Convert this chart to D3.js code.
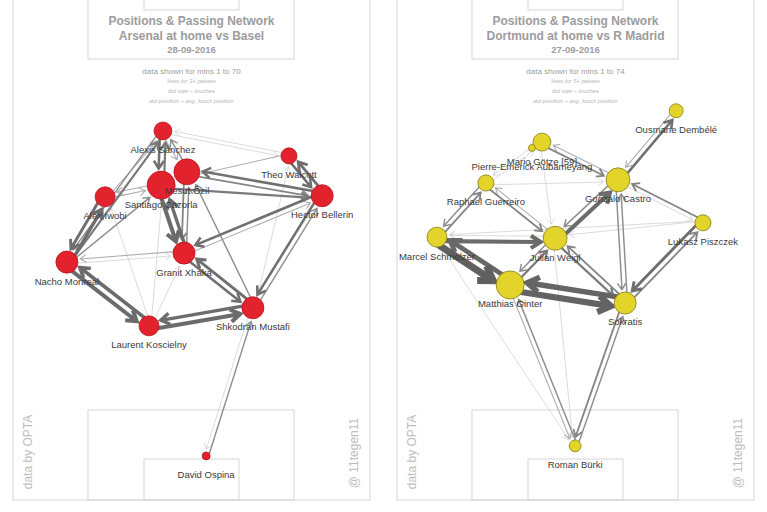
<!DOCTYPE html>
<html>
<head>
<meta charset="utf-8">
<script src="https://cdn.jsdelivr.net/npm/d3@7"></script>
<style>
  body { margin: 0; background: #fff; }
  svg { display: block; font-family: Arial, "Liberation Sans", sans-serif; }
</style>
</head>
<body>
<div id="chart"></div>
<script>

//--- Daten -----------------------------------------------------------------------------//

// pitch coordinates: x 0-100 across, y 0-100 from own goal line upwards
var arsenalKeys = ['Sanchez', 'Ozil', 'Cazorla', 'Walcott', 'Bellerin', 'Iwobi', 'Monreal', 'Xhaka', 'Mustafi', 'Koscielny', 'Ospina'];
var arsenalNames = ['Alexis Sánchez', 'Mesut Özil', 'Santiago Cazorla', 'Theo Walcott', 'Hector Bellerin', 'Alex Iwobi', 'Nacho Monreal', 'Granit Xhaka', 'Shkodran Mustafi', 'Laurent Koscielny', 'David Ospina'];
var arsenalX = [42.0, 48.7, 41.5, 77.3, 86.6, 25.8, 15.1, 47.9, 67.2, 38.1, 54.1];
var arsenalY = [69.5, 61.8, 59.3, 64.8, 57.3, 57.1, 44.8, 46.5, 36.2, 32.8, 8.3];
var arsenalTouches = [41, 86, 100, 33, 62, 51, 62, 62, 62, 51, 8];
var arsenalPasses = [
    ['Monreal', 'Koscielny', 12], ['Koscielny', 'Monreal', 11], ['Koscielny', 'Mustafi', 12], ['Mustafi', 'Koscielny', 10],
    ['Mustafi', 'Xhaka', 9], ['Xhaka', 'Mustafi', 8], ['Bellerin', 'Mustafi', 8], ['Mustafi', 'Bellerin', 5],
    ['Bellerin', 'Xhaka', 8], ['Walcott', 'Bellerin', 8], ['Bellerin', 'Walcott', 9], ['Cazorla', 'Bellerin', 7],
    ['Ozil', 'Bellerin', 6], ['Bellerin', 'Ozil', 8], ['Walcott', 'Cazorla', 4], ['Sanchez', 'Walcott', 3],
    ['Walcott', 'Sanchez', 3], ['Sanchez', 'Cazorla', 8], ['Cazorla', 'Sanchez', 7], ['Cazorla', 'Xhaka', 12],
    ['Xhaka', 'Cazorla', 10], ['Ozil', 'Xhaka', 6], ['Xhaka', 'Ozil', 5], ['Iwobi', 'Monreal', 9],
    ['Monreal', 'Iwobi', 10], ['Monreal', 'Sanchez', 7], ['Sanchez', 'Monreal', 5], ['Iwobi', 'Cazorla', 4],
    ['Cazorla', 'Iwobi', 4], ['Monreal', 'Cazorla', 5], ['Koscielny', 'Cazorla', 3], ['Koscielny', 'Xhaka', 3],
    ['Mustafi', 'Ospina', 3], ['Ospina', 'Mustafi', 5], ['Monreal', 'Xhaka', 3], ['Xhaka', 'Monreal', 4],
    ['Mustafi', 'Ozil', 5], ['Iwobi', 'Sanchez', 4], ['Koscielny', 'Iwobi', 3], ['Mustafi', 'Walcott', 3],
    ['Xhaka', 'Bellerin', 4], ['Ozil', 'Sanchez', 5], ['Sanchez', 'Ozil', 4]
];

var dortmundKeys = ['Dembele', 'Gotze', 'Aubameyang', 'Guerreiro', 'Castro', 'Piszczek', 'Schmelzer', 'Weigl', 'Ginter', 'Sokratis', 'Burki'];
var dortmundNames = ['Ousmane Dembélé', 'Mario Götze [59]', 'Pierre-Emerick Aubameyang', 'Raphael Guerreiro', 'Gonzalo Castro', 'Lukasz Piszczek', 'Marcel Schmelzer', 'Julian Weigl', 'Matthias Ginter', 'Sokratis', 'Roman Bürki'];
var dortmundX = [78.2, 40.6, 37.8, 24.9, 61.9, 85.7, 11.2, 44.3, 31.7, 63.9, 49.9];
var dortmundY = [73.3, 67.4, 66.3, 59.7, 60.3, 52.2, 49.5, 49.3, 40.5, 37.1, 10.2];
var dortmundTouches = [25, 41, 6, 33, 73, 33, 51, 73, 100, 62, 18];
var dortmundPasses = [
    ['Schmelzer', 'Ginter', 20], ['Ginter', 'Schmelzer', 14], ['Schmelzer', 'Weigl', 12], ['Weigl', 'Schmelzer', 3],
    ['Ginter', 'Sokratis', 18], ['Sokratis', 'Ginter', 16], ['Ginter', 'Weigl', 7], ['Weigl', 'Ginter', 5],
    ['Weigl', 'Sokratis', 7], ['Sokratis', 'Weigl', 6], ['Weigl', 'Castro', 12], ['Castro', 'Weigl', 5],
    ['Castro', 'Dembele', 8], ['Dembele', 'Castro', 4], ['Sokratis', 'Piszczek', 6], ['Piszczek', 'Sokratis', 9],
    ['Piszczek', 'Castro', 6], ['Castro', 'Piszczek', 3], ['Piszczek', 'Weigl', 3], ['Piszczek', 'Schmelzer', 3],
    ['Gotze', 'Castro', 6], ['Castro', 'Gotze', 4], ['Gotze', 'Weigl', 3], ['Guerreiro', 'Castro', 3],
    ['Guerreiro', 'Schmelzer', 5], ['Schmelzer', 'Guerreiro', 6], ['Guerreiro', 'Weigl', 6], ['Weigl', 'Guerreiro', 4],
    ['Sokratis', 'Castro', 5], ['Castro', 'Sokratis', 5], ['Burki', 'Ginter', 5], ['Ginter', 'Burki', 4],
    ['Burki', 'Sokratis', 5], ['Sokratis', 'Burki', 6], ['Weigl', 'Burki', 3], ['Schmelzer', 'Burki', 3],
    ['Guerreiro', 'Gotze', 3], ['Gotze', 'Guerreiro', 3]
];

var titles = [
    ['Positions & Passing Network', 'Arsenal at home vs Basel', '28-09-2016', 'data shown for mins 1 to 70', 'lines for 3+ passes'],
    ['Positions & Passing Network', 'Dortmund at home vs R Madrid', '27-09-2016', 'data shown for mins 1 to 74', 'lines for 5+ passes']
];
var notes = ['dot size ~ touches', 'dot position ~ avg. touch position'];


//--- Konfiguration -----------------------------------------------------------------------//

var Config = {
    Width: 767,
    Height: 512,
    PanelOffset: [0, 384],
    PitchLeft: 13,
    PitchRight: 370,
    PitchBottom: 500,
    PitchTop: -31,
    LineColor: '#d6d6d6',
    TextColor: '#9c9c9c',
    Fill: ['#e2222d', '#e2d42b'],
    Stroke: ['#b8151e', '#857b17']
};

var x = d3.scaleLinear().domain([0, 100]).range([Config.PitchLeft, Config.PitchRight]);
var y = d3.scaleLinear().domain([0, 100]).range([Config.PitchBottom, Config.PitchTop]);
var r = d3.scaleSqrt().domain([0, 100]).range([0, 14]);
var w = d3.scaleLinear().domain([3, 20]).range([0.7, 7]).clamp(true);
var shade = d3.scaleLinear().domain([3, 5, 8, 20]).range(['#cccccc', '#8e8e8e', '#707070', '#606060']).clamp(true);

var svg = d3.select('#chart').append('svg')
    .attr('width', Config.Width)
    .attr('height', Config.Height);


//--- Spielfeld --------------------------------------------------------------------------//

function renderPitch(g) {
    var pitch = g.append('g').attr('fill', 'none').attr('stroke', Config.LineColor).attr('stroke-width', 1);

    pitch.append('rect')
        .attr('x', x(0)).attr('y', y(100))
        .attr('width', x(100) - x(0)).attr('height', y(0) - y(100));

    // penalty areas + six yard boxes, top and bottom
    [[21.0, 78.7, 16.95], [36.7, 63.3, 7.72]].forEach(function (b) {
        pitch.append('rect')
            .attr('x', x(b[0])).attr('y', y(b[2]))
            .attr('width', x(b[1]) - x(b[0])).attr('height', y(0) - y(b[2]));
        pitch.append('rect')
            .attr('x', x(b[0])).attr('y', y(100))
            .attr('width', x(b[1]) - x(b[0])).attr('height', y(100 - b[2]) - y(100));
    });
}


//--- Texte -------------------------------------------------------------------------------//

function renderTexts(g, t) {
    var cx = x(50);
    var head = g.append('g').attr('text-anchor', 'middle').attr('fill', Config.TextColor);

    head.append('text').attr('x', cx).attr('y', 25).attr('font-size', 12).attr('font-weight', 'bold').text(t[0]);
    head.append('text').attr('x', cx).attr('y', 39.5).attr('font-size', 12).attr('font-weight', 'bold').text(t[1]);
    head.append('text').attr('x', cx).attr('y', 53).attr('font-size', 9.5).attr('font-weight', 'bold').text(t[2]);
    head.append('text').attr('x', cx).attr('y', 74).attr('font-size', 8).text(t[3]);

    [t[4], notes[0], notes[1]].forEach(function (s, i) {
        head.append('text')
            .attr('x', cx).attr('y', 83 + i * 10)
            .attr('font-size', 5.8).attr('font-style', 'italic')
            .attr('fill', '#b4b4b4')
            .text(s);
    });

    g.append('text')
        .attr('transform', 'translate(32,452) rotate(-90)')
        .attr('text-anchor', 'middle')
        .attr('font-size', 12).attr('fill', '#bdbdbd')
        .text('data by OPTA');

    g.append('text')
        .attr('transform', 'translate(358,453) rotate(-90)')
        .attr('text-anchor', 'middle')
        .attr('font-size', 12).attr('fill', '#bdbdbd')
        .text('@ 11tegen11');
}


//--- Passlinien -----------------------------------------------------------------------------//

function passPath(s, t, sw) {
    var dx = t.px - s.px, dy = t.py - s.py;
    var len = Math.sqrt(dx * dx + dy * dy);
    var ux = dx / len, uy = dy / len;
    var nx = -uy, ny = ux;
    var off = 1.5 + sw * 0.6;

    var x1 = s.px + ux * s.r * 0.5 + nx * off, y1 = s.py + uy * s.r * 0.5 + ny * off;
    var x2 = t.px - ux * (t.r + 2.5) + nx * off, y2 = t.py - uy * (t.r + 2.5) + ny * off;

    var a = 4.5 + sw * 1.3, b = 3 + sw * 0.8;
    var bx = x2 - ux * a, by = y2 - uy * a;

    return 'M' + x1 + ',' + y1 + 'L' + x2 + ',' + y2 +
        'M' + (bx + nx * b) + ',' + (by + ny * b) + 'L' + x2 + ',' + y2 +
        'L' + (bx - nx * b) + ',' + (by - ny * b);
}


//--- Netzwerk pro Team ----------------------------------------------------------------------//

function renderNetwork(panel, keys, names, px, py, touches, passes) {
    var g = svg.append('g').attr('transform', 'translate(' + Config.PanelOffset[panel] + ',0)');

    renderPitch(g);
    renderTexts(g, titles[panel]);

    var nodes = {};
    var nodeList = keys.map(function (k, i) {
        var n = { key: k, name: names[i], px: x(px[i]), py: y(py[i]), r: r(touches[i]) };
        nodes[k] = n;
        return n;
    });

    var links = passes.slice().sort(function (a, b) { return a[2] - b[2]; });

    g.append('g').attr('fill', 'none').attr('stroke-linejoin', 'miter').attr('stroke-linecap', 'butt')
        .selectAll('path')
        .data(links)
        .enter().append('path')
        .attr('d', function (d) { return passPath(nodes[d[0]], nodes[d[1]], w(d[2])); })
        .attr('stroke', function (d) { return shade(d[2]); })
        .attr('stroke-width', function (d) { return w(d[2]); });

    g.append('g').selectAll('circle')
        .data(nodeList)
        .enter().append('circle')
        .attr('cx', function (d) { return d.px; })
        .attr('cy', function (d) { return d.py; })
        .attr('r', function (d) { return d.r; })
        .attr('fill', Config.Fill[panel])
        .attr('stroke', Config.Stroke[panel])
        .attr('stroke-width', 0.8);

    g.append('g').attr('text-anchor', 'middle').attr('font-size', 9.5).attr('fill', '#3a3a3a')
        .selectAll('text')
        .data(nodeList)
        .enter().append('text')
        .attr('x', function (d) { return d.px; })
        .attr('y', function (d) { return d.py + 22.5; })
        .text(function (d) { return d.name; });
}

renderNetwork(0, arsenalKeys, arsenalNames, arsenalX, arsenalY, arsenalTouches, arsenalPasses);
renderNetwork(1, dortmundKeys, dortmundNames, dortmundX, dortmundY, dortmundTouches, dortmundPasses);

</script>
</body>
</html>
